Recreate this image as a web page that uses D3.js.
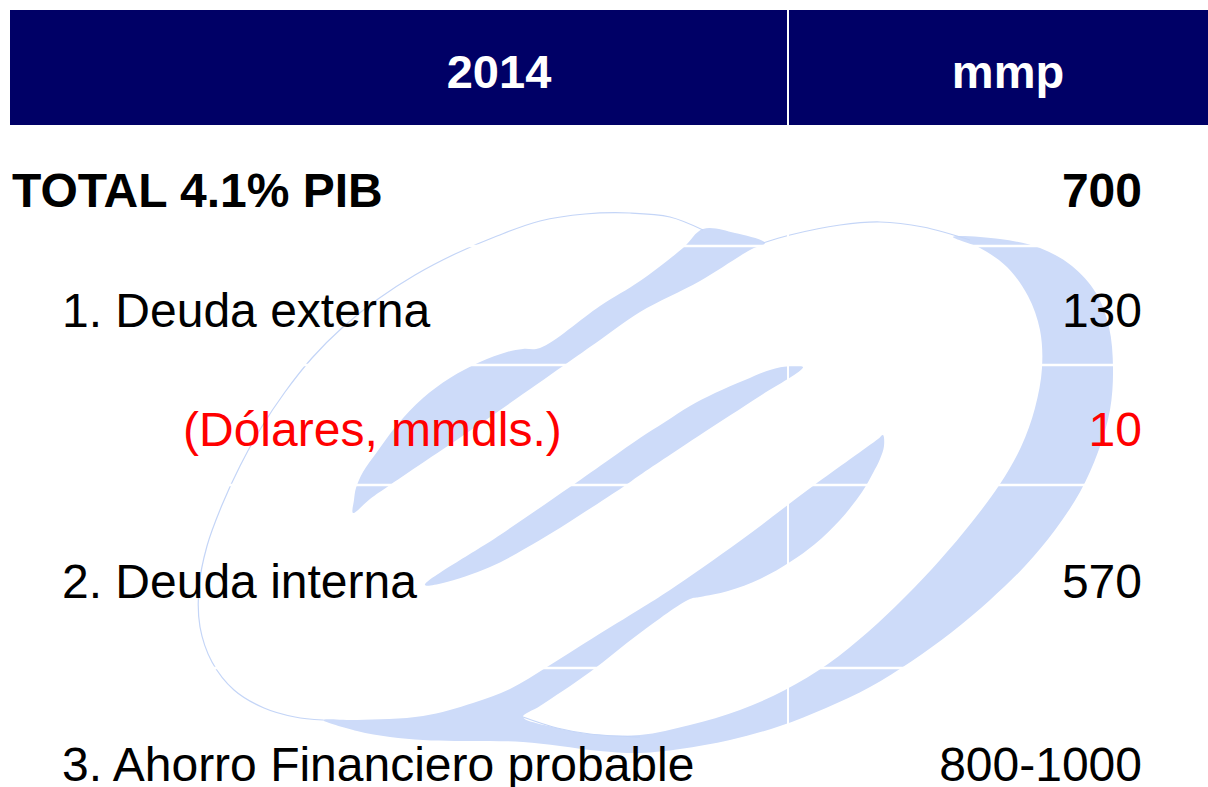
<!DOCTYPE html>
<html>
<head>
<meta charset="utf-8">
<script src="https://cdn.jsdelivr.net/npm/d3@7"></script>
<style>
  body { margin: 0; background: #fff; }
  svg { display: block; }
</style>
</head>
<body>
<script>
var w = 1208;
var h = 787;

// table content
var headers = ["2014", "mmp"];
var rowLabels = [
  "TOTAL 4.1% PIB",
  "1. Deuda externa",
  "(Dólares, mmdls.)",
  "2. Deuda interna",
  "3. Ahorro Financiero probable",
];
var rowValues = ["700", "130", "10", "570", "800-1000"];
var rowLevel = ["total", "item", "memo", "item", "item"];

var navy = "#000066";
var wm = "#cddbf9";
var font = "'Liberation Sans', Arial, sans-serif";

// row edges of the table (last row runs off the slide)
var rowEdges = [125, 246, 365, 485, 668, 852];
var colSplit = 788;

var y = d3
  .scaleOrdinal()
  .domain(rowLabels)
  .range(rowLabels.map((d, i) => (rowEdges[i] + rowEdges[i + 1]) / 2 + 21));

var indent = { total: 12, item: 62, memo: 183 };

var svg = d3.select("body").append("svg").attr("width", w).attr("height", h);

svg.append("rect").attr("width", w).attr("height", h).attr("fill", "#fff");

// header band
svg
  .append("rect")
  .attr("x", 10)
  .attr("y", 10)
  .attr("width", 1230)
  .attr("height", 115)
  .attr("fill", navy);

// watermark logo (light blue swooshes behind the table)
var logo = svg.append("g");
var shapeLine = d3.line().curve(d3.curveCatmullRomClosed.alpha(0.5));
var strokeLine = d3.line().curve(d3.curveCatmullRom.alpha(0.5));

var bandRight = [
  [323,720],[357,720],[423,716],[473,703],[510,689],[547,667],[593,638],[640,609],[670,590],
  [740,541],[813,486],[878,439],[883,435],
  [884,446],[880,459],[873,473],[862,492],[840,520],[815,544],[790,562],[760,579],[728,591],
  [700,597],[690,599],
  [640,633],[590,672],[540,706],[523,717],
  [557,728],[590,734],[640,735],[690,725],[740,710],[785,690],[828,664],[868,632],[905,597],
  [940,560],[972,522],[1000,484],[1021,447],[1035,408],[1042,368],[1040,330],[1028,296],
  [1007,267],[980,248],[953,237],
  [1000,239],[1040,248],[1072,266],[1096,293],[1109,327],[1113,368],[1110,410],[1098,452],
  [1080,492],[1055,530],[1025,566],[990,600],[952,632],[912,661],[870,687],[826,708],
  [780,726],[730,740],[680,749],[640,753],[600,751],[560,746],[523,742],
  [490,741],[455,741],[423,740],[390,737],[357,731],
];
var bandMid = [
  [803,367],[790,366],[770,370],[745,380],[715,393],[690,406],[665,422],[640,438],[610,459],
  [570,487],[500,535],[425,585],
  [443,583],[490,567],[540,540],[580,515],[623,487],[640,475],[700,435],[760,396],
];
var bandTop = [
  [703,229],[735,233],[765,243],[750,250],[700,281],[640,312],[600,340],[563,366],[480,424],
  [390,485],[370,499],[353,513],
  [354,500],[356,488],[363,472],[377,452],[397,425],[423,398],[450,378],[480,362],[507,352],
  [523,349],[540,348],
  [600,306],[640,281],[683,248],
];

[bandRight, bandMid, bandTop].forEach((pts) => {
  logo.append("path").attr("d", shapeLine(pts)).attr("fill", wm);
});

var outlines = [
  [[703,230],[670,217],[630,213],[585,214],[540,221],[497,236],[455,254],[415,275],[378,299],
   [343,327],[312,358],[285,392],[261,428],[240,466],[222,505],[207,546],[199,587],[200,627],
   [212,662],[234,690],[264,708],[295,717],[323,720]],
  [[763,243],[790,235],[840,225],[880,222],[923,227],[970,240]],
  [[523,717],[557,728],[590,734],[640,737]],
];
outlines.forEach((pts) => {
  logo
    .append("path")
    .attr("d", strokeLine(pts))
    .attr("fill", "none")
    .attr("stroke", "#c4d5f7")
    .attr("stroke-width", 1.2);
});

// white table grid over the watermark
svg
  .selectAll("line.row")
  .data(rowEdges.slice(1, 5))
  .enter()
  .append("line")
  .attr("x1", 10)
  .attr("x2", w)
  .attr("y1", (d) => d)
  .attr("y2", (d) => d)
  .attr("stroke", "#fff")
  .attr("stroke-width", 2.5);

svg
  .append("line")
  .attr("x1", colSplit)
  .attr("x2", colSplit)
  .attr("y1", 10)
  .attr("y2", h)
  .attr("stroke", "#fff")
  .attr("stroke-width", 2);

// header text
svg
  .selectAll("text.head")
  .data(headers)
  .enter()
  .append("text")
  .attr("x", (d, i) => (i === 0 ? 499 : 1008))
  .attr("y", 88)
  .attr("text-anchor", "middle")
  .attr("font-family", font)
  .attr("font-weight", "bold")
  .attr("font-size", "47px")
  .attr("fill", "#fff")
  .text((d) => d);

// row labels
svg
  .selectAll("text.label")
  .data(rowLabels)
  .enter()
  .append("text")
  .attr("x", (d, i) => indent[rowLevel[i]])
  .attr("y", (d) => y(d))
  .attr("font-family", font)
  .attr("font-size", "48px")
  .attr("font-weight", (d, i) => (rowLevel[i] === "total" ? "bold" : "normal"))
  .attr("fill", (d, i) => (rowLevel[i] === "memo" ? "#ff0000" : "#000"))
  .text((d) => d);

// row values
svg
  .selectAll("text.value")
  .data(rowValues)
  .enter()
  .append("text")
  .attr("x", 1142)
  .attr("y", (d, i) => y(rowLabels[i]))
  .attr("text-anchor", "end")
  .attr("font-family", font)
  .attr("font-size", "48px")
  .attr("font-weight", (d, i) => (rowLevel[i] === "total" ? "bold" : "normal"))
  .attr("fill", (d, i) => (rowLevel[i] === "memo" ? "#ff0000" : "#000"))
  .text((d) => d);
</script>
</body>
</html>
